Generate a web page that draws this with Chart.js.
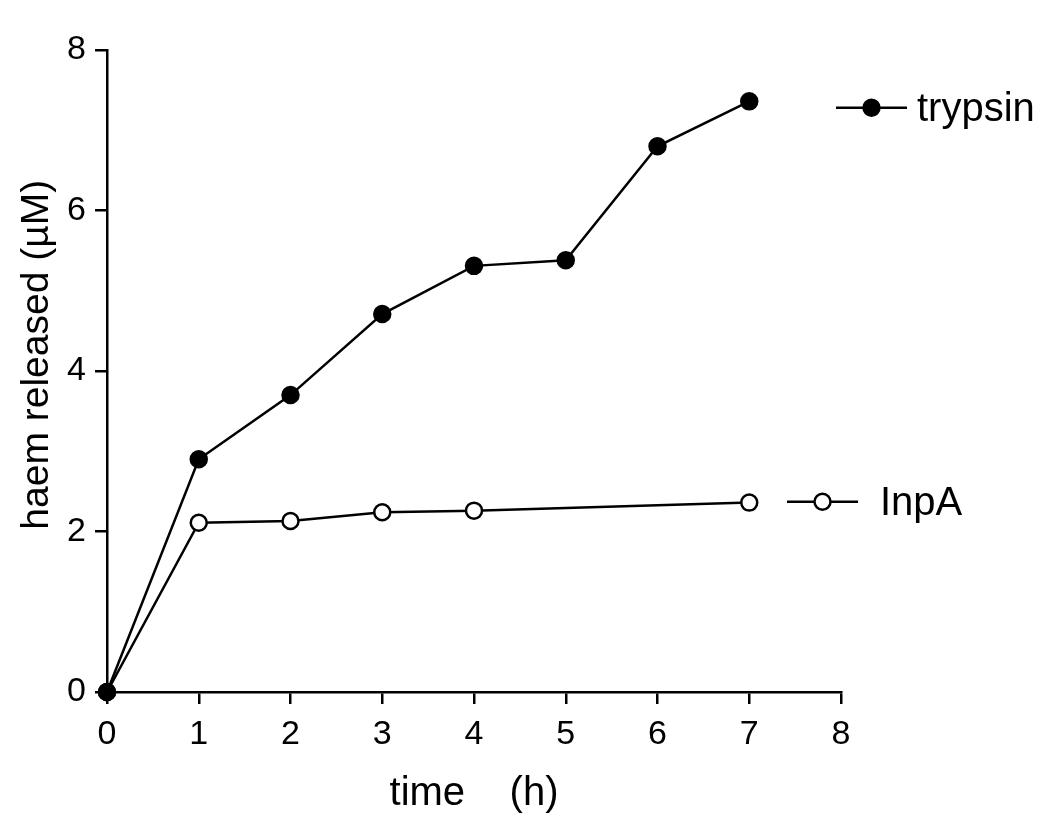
<!DOCTYPE html>
<html>
<head>
<meta charset="utf-8">
<script src="https://cdn.jsdelivr.net/npm/chart.js@4"></script>
<style>
    html, body { margin: 0; padding: 0; background: #fff; }
    #wrap { width: 1050px; height: 824px; }
</style>
</head>
<body>
<div id="wrap"><canvas id="haemChart" width="1050" height="824"></canvas></div>
<script>
// dados
const timeTrypsin = [0, 1, 2, 3, 4, 5, 6, 7];
const trypsinValues = [0, 2.9, 3.7, 4.71, 5.31, 5.38, 6.8, 7.36];
const timeInpA = [0, 1, 2, 3, 4, 7];
const inpAValues = [0, 2.11, 2.13, 2.24, 2.26, 2.36];
const xTicks = [0, 1, 2, 3, 4, 5, 6, 7, 8];
const yTicks = [0, 2, 4, 6, 8];
const seriesNames = ['trypsin', 'InpA'];
const legendLevels = [7.28, 2.37]; // altura (valor do eixo y) de cada legenda

const FONT = 'Liberation Sans, Arial, sans-serif';

// legenda desenhada ao lado das curvas
const sideLegend = {
    id: 'sideLegend',
    afterDraw(chart) {
        const c = chart.ctx;
        const area = chart.chartArea;
        const y = chart.scales.y;
        const items = [
            { x0: area.right - 5, x1: area.right + 66, tx: area.right + 76, fill: '#000' },
            { x0: area.right - 54, x1: area.right + 17, tx: area.right + 39, fill: '#fff' }
        ];
        c.save();
        items.forEach((it, i) => {
            const py = y.getPixelForValue(legendLevels[i]);
            c.strokeStyle = '#000';
            c.lineWidth = 2.5;
            c.beginPath();
            c.moveTo(it.x0, py);
            c.lineTo(it.x1, py);
            c.stroke();
            c.beginPath();
            c.arc((it.x0 + it.x1) / 2, py, 8, 0, Math.PI * 2);
            c.fillStyle = it.fill;
            c.fill();
            c.stroke();
            c.fillStyle = '#000';
            c.font = '40px ' + FONT;
            c.textBaseline = 'middle';
            c.textAlign = 'left';
            c.fillText(seriesNames[i], it.tx, py + 2);
        });
        c.restore();
    }
};

const toPoints = (xs, ys) => xs.map((x, i) => ({ x: x, y: ys[i] }));

new Chart(document.getElementById('haemChart'), {
    type: 'line',
    data: {
        datasets: [{
            label: seriesNames[0],
            data: toPoints(timeTrypsin, trypsinValues),
            borderColor: '#000',
            borderWidth: 2.5,
            pointRadius: 8,
            pointBackgroundColor: '#000',
            pointBorderColor: '#000',
            pointBorderWidth: 2.5,
            tension: 0
        }, {
            label: seriesNames[1],
            data: toPoints(timeInpA, inpAValues),
            borderColor: '#000',
            borderWidth: 2.5,
            pointRadius: 8,
            pointBackgroundColor: '#fff',
            pointBorderColor: '#000',
            pointBorderWidth: 2.5,
            tension: 0
        }]
    },
    options: {
        responsive: false,
        animation: false,
        events: [],
        clip: false,
        layout: { padding: { top: 50, right: 209, left: 0, bottom: 0 } },
        plugins: {
            legend: { display: false },
            tooltip: { enabled: false }
        },
        scales: {
            x: {
                type: 'linear',
                min: 0,
                max: 8,
                afterBuildTicks: (s) => { s.ticks = xTicks.map(v => ({ value: v })); },
                afterFit: (s) => { s.height = 132; },
                border: { display: true, color: '#000', width: 2.5 },
                grid: { drawOnChartArea: false, drawTicks: true, tickLength: 12, tickColor: '#000', lineWidth: 2.5 },
                ticks: { color: '#000', padding: 10, maxRotation: 0, font: { family: FONT, size: 34 } },
                title: {
                    display: true,
                    text: 'time    (h)',
                    color: '#000',
                    padding: { top: 22, bottom: 6 },
                    font: { family: FONT, size: 40 }
                }
            },
            y: {
                min: 0,
                max: 8,
                afterBuildTicks: (s) => { s.ticks = yTicks.map(v => ({ value: v })); },
                afterFit: (s) => { s.width = 107; },
                border: { display: true, color: '#000', width: 2.5 },
                grid: { drawOnChartArea: false, drawTicks: true, tickLength: 12, tickColor: '#000', lineWidth: 2.5 },
                ticks: { color: '#000', padding: 9, font: { family: FONT, size: 34 } },
                title: {
                    display: true,
                    text: '   haem released (µM)',
                    color: '#000',
                    padding: { top: 14, bottom: 10 },
                    font: { family: FONT, size: 39 }
                }
            }
        }
    },
    plugins: [sideLegend]
});
</script>
</body>
</html>
